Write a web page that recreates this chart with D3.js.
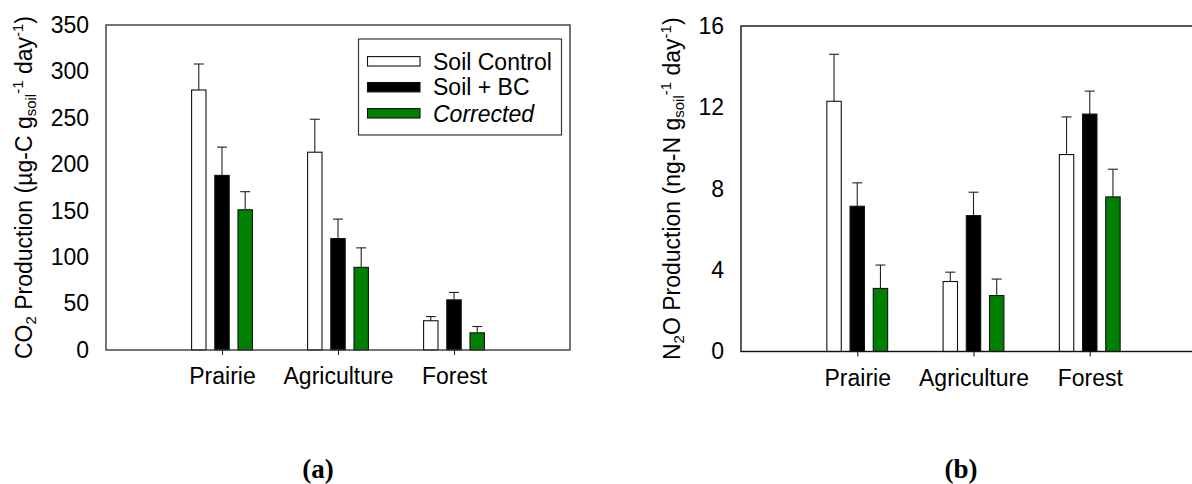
<!DOCTYPE html>
<html><head><meta charset="utf-8">
<script src="https://cdn.jsdelivr.net/npm/d3@7"></script>
<style>body{margin:0;background:#fff}svg{display:block}</style>
</head><body>
<svg id="c" width="1192" height="484"></svg>
<script>
const categories = ["Prairie", "Agriculture", "Forest"];
const seriesNames = ["Soil Control", "Soil + BC", "Corrected"];
const seriesColors = ["#ffffff", "#000000", "#008000"];
// Panel (a) CO2 production
const co2Control = [280, 213, 31.5];
const co2BC = [188, 120, 54];
const co2Corrected = [151, 89, 18.5];
const co2ControlErr = [28, 35.5, 4.5];
const co2BCErr = [30.5, 21, 8];
const co2CorrectedErr = [19.5, 21, 6.8];
const co2Ticks = [0, 50, 100, 150, 200, 250, 300, 350];
// Panel (b) N2O production
const n2oControl = [12.3, 3.44, 9.68];
const n2oBC = [7.14, 6.68, 11.67];
const n2oCorrected = [3.10, 2.75, 7.60];
const n2oControlErr = [2.31, 0.46, 1.85];
const n2oBCErr = [1.15, 1.15, 1.13];
const n2oCorrectedErr = [1.15, 0.81, 1.36];
const n2oTicks = [0, 4, 8, 12, 16];

const svg = d3.select("#c");
const FONT = "Arial, 'Liberation Sans', sans-serif";
const FS = 23;

function panel(opts) {
  const g = svg.append("g");
  const x = d3.scaleLinear().domain([0, 4]).range([opts.x0, opts.x1]);
  const y = d3.scaleLinear().domain(opts.ydom).range([opts.yb, opts.yt]);
  const series = opts.series;
  const errs = opts.errs;
  const step = 23.2, bw = 14.4;
  series.forEach((vals, si) => {
    vals.forEach((v, ci) => {
      const cx = x(ci + 1) + (si - 1) * step;
      const top = y(v);
      g.append("rect").attr("x", cx - bw / 2).attr("y", top)
        .attr("width", bw).attr("height", y(0) - top)
        .attr("fill", seriesColors[si]).attr("stroke", "#111").attr("stroke-width", 1.1);
      const et = y(v + errs[si][ci]);
      g.append("line").attr("x1", cx).attr("x2", cx).attr("y1", top).attr("y2", et)
        .attr("stroke", "#222").attr("stroke-width", 1.1);
      g.append("line").attr("x1", cx - 5).attr("x2", cx + 5).attr("y1", et).attr("y2", et)
        .attr("stroke", "#222").attr("stroke-width", 1.1);
    });
  });
  g.append("rect").attr("x", opts.x0).attr("y", opts.yt)
    .attr("width", opts.x1 - opts.x0).attr("height", opts.yb - opts.yt)
    .attr("fill", "none").attr("stroke", opts.frameColor).attr("stroke-width", 1.4);
  const yAxis = d3.axisLeft(y).tickValues(opts.ticks).tickSize(0).tickPadding(17);
  const ya = g.append("g").attr("transform", `translate(${opts.x0},0)`).call(yAxis);
  ya.select(".domain").remove();
  ya.selectAll("text").attr("font-family", FONT).attr("font-size", FS).attr("fill", "#000");
  const xAxis = d3.axisBottom(x).tickValues([1, 2, 3]).tickSize(5).tickPadding(13)
    .tickFormat(d => categories[d - 1]);
  const xa = g.append("g").attr("transform", `translate(0,${opts.yb})`).call(xAxis);
  xa.select(".domain").remove();
  xa.selectAll("line").attr("stroke", "#222").attr("stroke-width", 1.1);
  xa.selectAll("text").attr("font-family", FONT).attr("font-size", FS).attr("fill", "#000");
  const t = g.append("text").attr("transform", `translate(${opts.titleX},${(opts.yt + opts.yb) / 2}) rotate(-90)`)
    .attr("text-anchor", "middle").attr("font-family", FONT).attr("font-size", FS).attr("fill", "#000");
  opts.titleParts.forEach(p => {
    const ts = t.append("tspan").text(p[0]);
    if (p[1] === "sub") ts.attr("font-size", 15).attr("baseline-shift", "-4");
    if (p[1] === "sup") ts.attr("font-size", 15).attr("baseline-shift", "9");
  });
  g.append("text").attr("x", opts.labelX).attr("y", 478).attr("text-anchor", "middle")
    .attr("font-family", "'Times New Roman', 'Liberation Serif', serif")
    .attr("font-weight", "bold").attr("font-size", 27).text(opts.label);
  return { g, x, y };
}

panel({
  x0: 106, x1: 570, yt: 25, yb: 350, ydom: [0, 350], ticks: co2Ticks,
  series: [co2Control, co2BC, co2Corrected], errs: [co2ControlErr, co2BCErr, co2CorrectedErr],
  frameColor: "#3a3a3a", titleX: 32, label: "(a)", labelX: 318,
  titleParts: [["CO"], ["2", "sub"], [" Production (µg-C g"], ["soil", "sub"], ["-1", "sup"], [" day"], ["-1", "sup"], [")"]]
});
panel({
  x0: 741, x1: 1206, yt: 26, yb: 351.5, ydom: [0, 16], ticks: n2oTicks,
  series: [n2oControl, n2oBC, n2oCorrected], errs: [n2oControlErr, n2oBCErr, n2oCorrectedErr],
  frameColor: "#111", titleX: 680, label: "(b)", labelX: 961,
  titleParts: [["N"], ["2", "sub"], ["O Production (ng-N g"], ["soil", "sub"], ["-1", "sup"], [" day"], ["-1", "sup"], [")"]]
});

const lg = svg.append("g");
lg.append("rect").attr("x", 358.5).attr("y", 39).attr("width", 203).attr("height", 96)
  .attr("fill", "#fff").attr("stroke", "#3a3a3a").attr("stroke-width", 1.2);
const rowsY = [61.3, 87.2, 113.3];
seriesNames.forEach((n, i) => {
  lg.append("rect").attr("x", 367.5).attr("y", rowsY[i] - 4.7).attr("width", 52.5).attr("height", 9.4)
    .attr("fill", seriesColors[i]).attr("stroke", "#111").attr("stroke-width", 1.1);
  lg.append("text").attr("x", 433).attr("y", rowsY[i]).attr("dy", "0.36em")
    .attr("font-family", FONT).attr("font-size", FS)
    .attr("font-style", i === 2 ? "italic" : "normal").text(n);
});
</script>
</body></html>
